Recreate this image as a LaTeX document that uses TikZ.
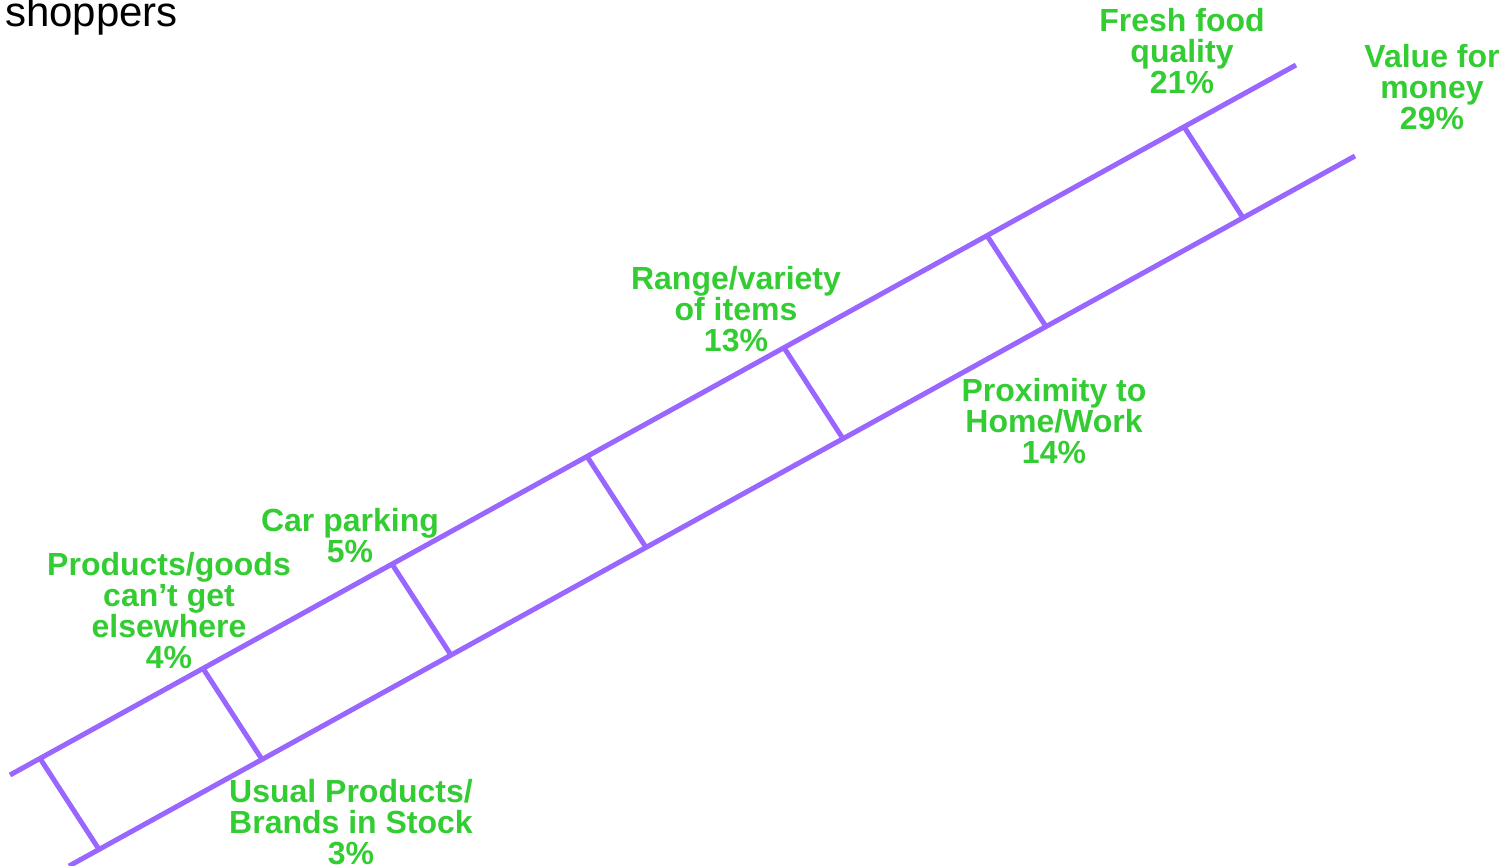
\documentclass[tikz,border=0pt]{standalone}
\usepackage{fontspec}
\setmainfont{Liberation Sans}
\definecolor{rungpurple}{RGB}{153,102,255}
\definecolor{labelgreen}{RGB}{51,204,51}
\begin{document}
\begin{tikzpicture}[x=1pt,y=-1pt,
  rail/.style={draw=rungpurple,line width=5pt},
  rung/.style={draw=rungpurple,line width=5pt},
  lab/.style={text=labelgreen,font=\fontsize{32}{31}\selectfont\bfseries,align=center,inner sep=0pt,anchor=base},
  title/.style={font=\fontsize{42}{44}\selectfont,inner sep=0pt,anchor=base west}]
\useasboundingbox (0,0) rectangle (1511,866);
% rails
\coordinate (tl) at (10,775);
\coordinate (tr) at (1296,65);
\coordinate (bl) at (69,866);
\coordinate (br) at (1355,156);
\draw[rail] (tl) -- (tr);
\draw[rail] (bl) -- (br);
% rungs
\coordinate (t1) at (40,758.4);   \coordinate (b1) at (99,849.4);
\coordinate (t2) at (203,668.4);  \coordinate (b2) at (262,759.4);
\coordinate (t3) at (392,564.1);  \coordinate (b3) at (451,655.1);
\coordinate (t4) at (587,456.4);  \coordinate (b4) at (646,547.4);
\coordinate (t5) at (784,347.7);  \coordinate (b5) at (843,438.7);
\coordinate (t6) at (987,235.6);  \coordinate (b6) at (1046,326.6);
\coordinate (t7) at (1184,126.8); \coordinate (b7) at (1243,217.8);
\foreach \i in {1,...,7} {\draw[rung] (t\i) -- (b\i);}
% labels (anchor = baseline of last line)
\node[title] (ttl) at (5,27) {shoppers};
\node[lab] (fresh) at (1182,94) {Fresh food\\quality\\21\%};
\node[lab] (value) at (1432,130) {Value for\\money\\29\%};
\node[lab] (range) at (736,351) {Range/variety\\of items\\13\%};
\node[lab] (prox) at (1054,463) {Proximity to\\Home/Work\\14\%};
\node[lab] (car) at (350,562) {Car parking\\5\%};
\node[lab] (prod) at (169,668) {Products/goods\\can’t get\\elsewhere\\4\%};
\node[lab] (usual) at (351,864) {Usual Products/\\Brands in Stock\\3\%};
\end{tikzpicture}
\end{document}
